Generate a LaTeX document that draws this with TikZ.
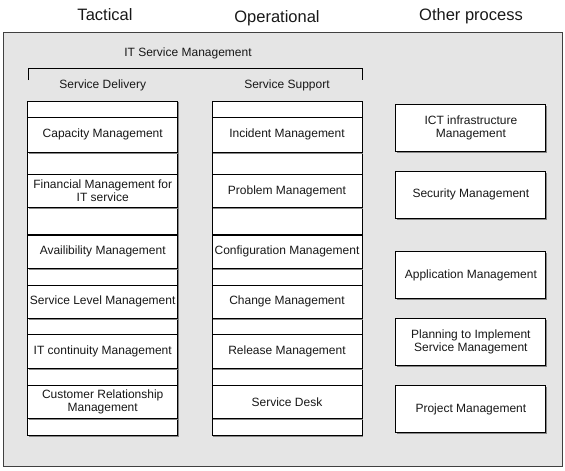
\documentclass[tikz,border=0pt]{standalone}
\usepackage{fontspec}
\setmainfont{Liberation Sans}
\usetikzlibrary{shadows}
\definecolor{FrameFill}{RGB}{229,229,229}
\definecolor{FrameLine}{RGB}{64,64,64}
\definecolor{ShadeCol} {RGB}{135,135,135}
\definecolor{TxtCol}   {RGB}{24,24,24}
\tikzset{
  nd_frame/.style={
    rectangle, draw=FrameLine, fill=FrameFill,
    line width=1pt, inner sep=0pt},
  nd_cell/.style={
    rectangle, draw=black, fill=white, line width=1pt,
    minimum width=150pt, inner sep=0pt,
    align=center, text=TxtCol,
    font=\fontsize{12}{13.5}\selectfont,
    drop shadow={shadow xshift=1.3pt, shadow yshift=-1.3pt,
      fill=ShadeCol, opacity=1}},
  nd_hdr/.style={
    anchor=base, inner sep=0pt, text=TxtCol,
    font=\fontsize{16.5}{19}\selectfont},
  nd_lbl/.style={
    anchor=base, inner sep=0pt, text=TxtCol,
    font=\fontsize{12}{13.5}\selectfont},
  brk/.style={line width=1pt, draw=black},
}

\begin{document}
\begin{tikzpicture}[x=1pt,y=-1pt]

\useasboundingbox (0,0) rectangle (565,471);

\def\cA{102.7}\def\cB{287}\def\cC{470.9}

\node[nd_hdr] at (105,20)   (TAC){Tactical};
\node[nd_hdr] at (277,22.5) (OPE){Operational};
\node[nd_hdr] at (471,20.5) (OTH){Other process};

\node[nd_frame, minimum width=559.7pt, minimum height=434pt]
  at (282.85,249) (FR){};

\node[nd_lbl] at (188,56.5) (ITSM){IT Service Management};
\coordinate (BL) at (28,80);
\coordinate (BR) at (362,80);
\draw[brk] (BL) -- (BL |- 0,68) -- (BR |- 0,68) -- (BR);
\node[nd_lbl] at (\cA,88.3) (SD){Service Delivery};
\node[nd_lbl] at (\cB,88.3) (SS){Service Support};

%% empty rows of both stacks
\foreach \n/\y/\h in {1/109.2/16.3, 2/163.3/22, 3/221.2/27.5, 4/276.8/17,
                      5/326.7/16.7, 6/377/16.6, 7/426.8/17}
  {\node[nd_cell, minimum height=\h pt] at (\cA,\y) (gD\n){};
   \node[nd_cell, minimum height=\h pt] at (\cB,\y) (gS\n){};}

%% Col A
\node[nd_cell, minimum height=35pt] at (\cA,134.8) (D1){Capacity Management};
\node[nd_cell, minimum height=33pt] at (\cA,190.9) (D2){Financial Management for\\IT service};
\node[nd_cell, minimum height=33.3pt] at (\cA,251.7) (D3){Availibility Management};
\node[nd_cell, minimum height=33pt] at (\cA,301.8) (D4){Service Level Management};
\node[nd_cell, minimum height=33.7pt] at (\cA,351.8) (D5){IT continuity Management};
\node[nd_cell, minimum height=33pt] at (\cA,401.8) (D6){Customer Relationship\\Management};

%% Col B
\node[nd_cell, minimum height=35pt] at (\cB,134.8) (S1){Incident Management};
\node[nd_cell, minimum height=33pt] at (\cB,190.9) (S2){Problem Management};
\node[nd_cell, minimum height=33.3pt] at (\cB,251.7) (S3){Configuration Management};
\node[nd_cell, minimum height=33pt] at (\cB,301.8) (S4){Change Management};
\node[nd_cell, minimum height=33.7pt] at (\cB,351.8) (S5){Release Management};
\node[nd_cell, minimum height=33pt] at (\cB,401.8) (S6){Service Desk};

%% Col C
\node[nd_cell, minimum height=47pt] at (\cC,127.8) (O1){ICT infrastructure\\Management};
\node[nd_cell, minimum height=47pt] at (\cC,194.8) (O2){Security Management};
\node[nd_cell, minimum height=46.6pt] at (\cC,275) (O3){Application Management};
\node[nd_cell, minimum height=47.4pt] at (\cC,342) (O4){Planning to Implement\\Service Management};
\node[nd_cell, minimum height=47pt] at (\cC,409.2) (O5){Project Management};

\end{tikzpicture}
\end{document}
